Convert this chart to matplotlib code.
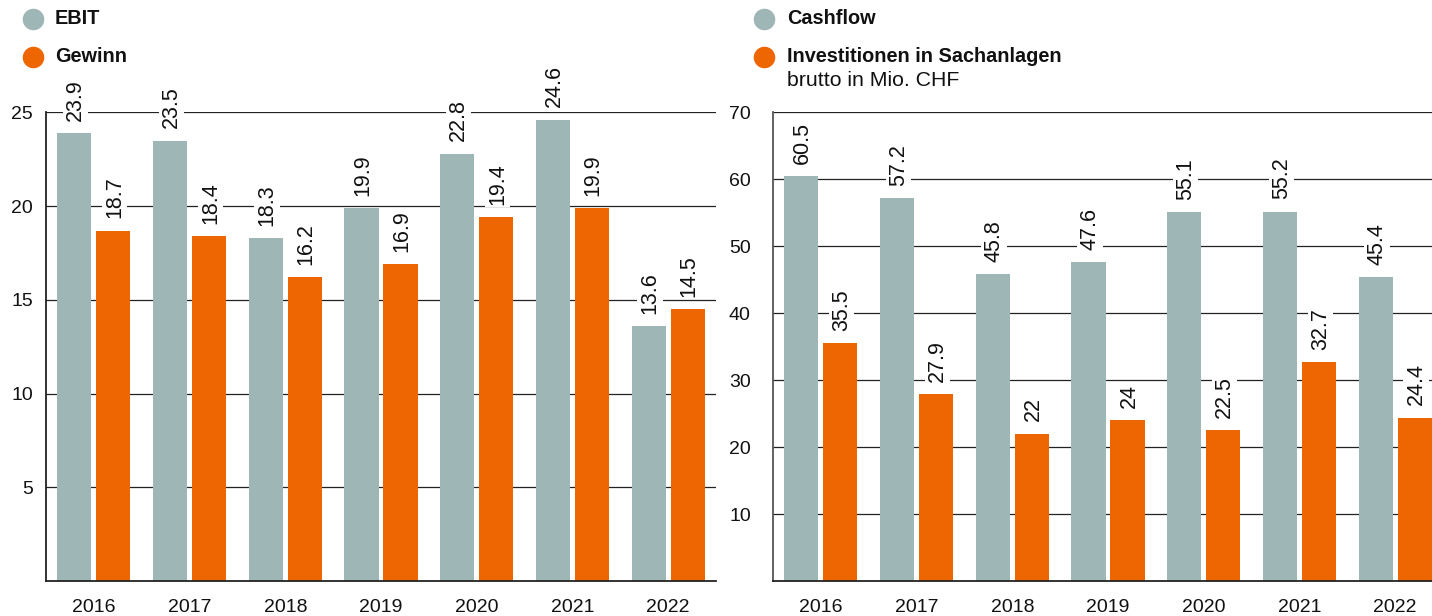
import matplotlib
matplotlib.use("Agg")
import matplotlib.pyplot as plt
from matplotlib.lines import Line2D
import numpy as np

plt.rcParams['font.family'] = ['Liberation Sans', 'DejaVu Sans']

years = ["2016", "2017", "2018", "2019", "2020", "2021", "2022"]
ebit = [23.9, 23.5, 18.3, 19.9, 22.8, 24.6, 13.6]
gewinn = [18.7, 18.4, 16.2, 16.9, 19.4, 19.9, 14.5]
cashflow = [60.5, 57.2, 45.8, 47.6, 55.1, 55.2, 45.4]
invest = [35.5, 27.9, 22, 24, 22.5, 32.7, 24.4]
left_ticks = [5, 10, 15, 20, 25]
right_ticks = [10, 20, 30, 40, 50, 60, 70]

GRAY = "#9EB6B6"
ORANGE = "#EE6602"
W, H = 1432, 616

fig = plt.figure(figsize=(W / 100, H / 100), dpi=100)

def px(x0, y0, w, h):
    return [x0 / W, 1 - (y0 + h) / H, w / W, h / H]

bottom_px = 581
top_px = 111.5
axh = bottom_px - top_px
ax1 = fig.add_axes(px(46, top_px, 670, axh))
ax2 = fig.add_axes(px(773, top_px, 670, axh))

def fmt(v):
    return f"{v:g}"

def draw(ax, a, b, ymax, ticks, pad):
    x = np.arange(len(years))
    bw = 0.356
    off = 0.204
    ax.bar(x - off, a, bw, color=GRAY, zorder=2)
    ax.bar(x + off, b, bw, color=ORANGE, zorder=2)
    ax.set_xlim(-0.5, len(years) - 0.5)
    ax.set_ylim(0, ymax * 1.002)
    ax.set_yticks(ticks)
    ax.set_yticklabels([str(t) for t in ticks])
    ax.set_xticks(x)
    ax.set_xticklabels(years)
    ax.tick_params(axis='both', length=0, labelsize=14, colors="#111111")
    ax.tick_params(axis='y', pad=pad)
    ax.tick_params(axis='x', pad=13)
    ax.grid(axis='y', color="#222222", linewidth=0.9, zorder=1)
    ax.set_axisbelow(True)
    for s in ['top', 'right']:
        ax.spines[s].set_visible(False)
    for s in ['left', 'bottom']:
        ax.spines[s].set_color("#222222")
        ax.spines[s].set_linewidth(1.3)
    for xs, vals in ((x - off, a), (x + off, b)):
        for xi, v in zip(xs, vals):
            ax.annotate(fmt(v), (xi, v), xytext=(1, 9), textcoords='offset points',
                        rotation=90, ha='center', va='bottom', fontsize=15.5,
                        color="#111111", zorder=5,
                        bbox=dict(boxstyle='square,pad=0.1', fc='white', ec='none'))

draw(ax1, ebit, gewinn, 25, left_ticks, 9.5)
draw(ax2, cashflow, invest, 70, right_ticks, 16)
ax2.spines['left'].set_color("#555555")

def legend_item(xc, yc, color, label, bold=True, xt=None):
    fig.add_artist(Line2D([xc / W], [1 - yc / H], marker='o', markersize=14.5,
                          color=color, linestyle='none', transform=fig.transFigure))
    fig.text(xt / W, 1 - yc / H, label, fontsize=14.3, fontweight='bold' if bold else 'normal',
             va='center', ha='left', color="#111111")

legend_item(33, 19, GRAY, "EBIT", xt=55)
legend_item(33, 57, ORANGE, "Gewinn", xt=55)
legend_item(764, 19, GRAY, "Cashflow", xt=787)
legend_item(764, 57, ORANGE, "Investitionen in Sachanlagen", xt=787)
fig.text(787 / W, 1 - 81 / H, "brutto in Mio. CHF", fontsize=15.3, va='center', ha='left',
         color="#111111")

fig.savefig("out.png", dpi=100)
